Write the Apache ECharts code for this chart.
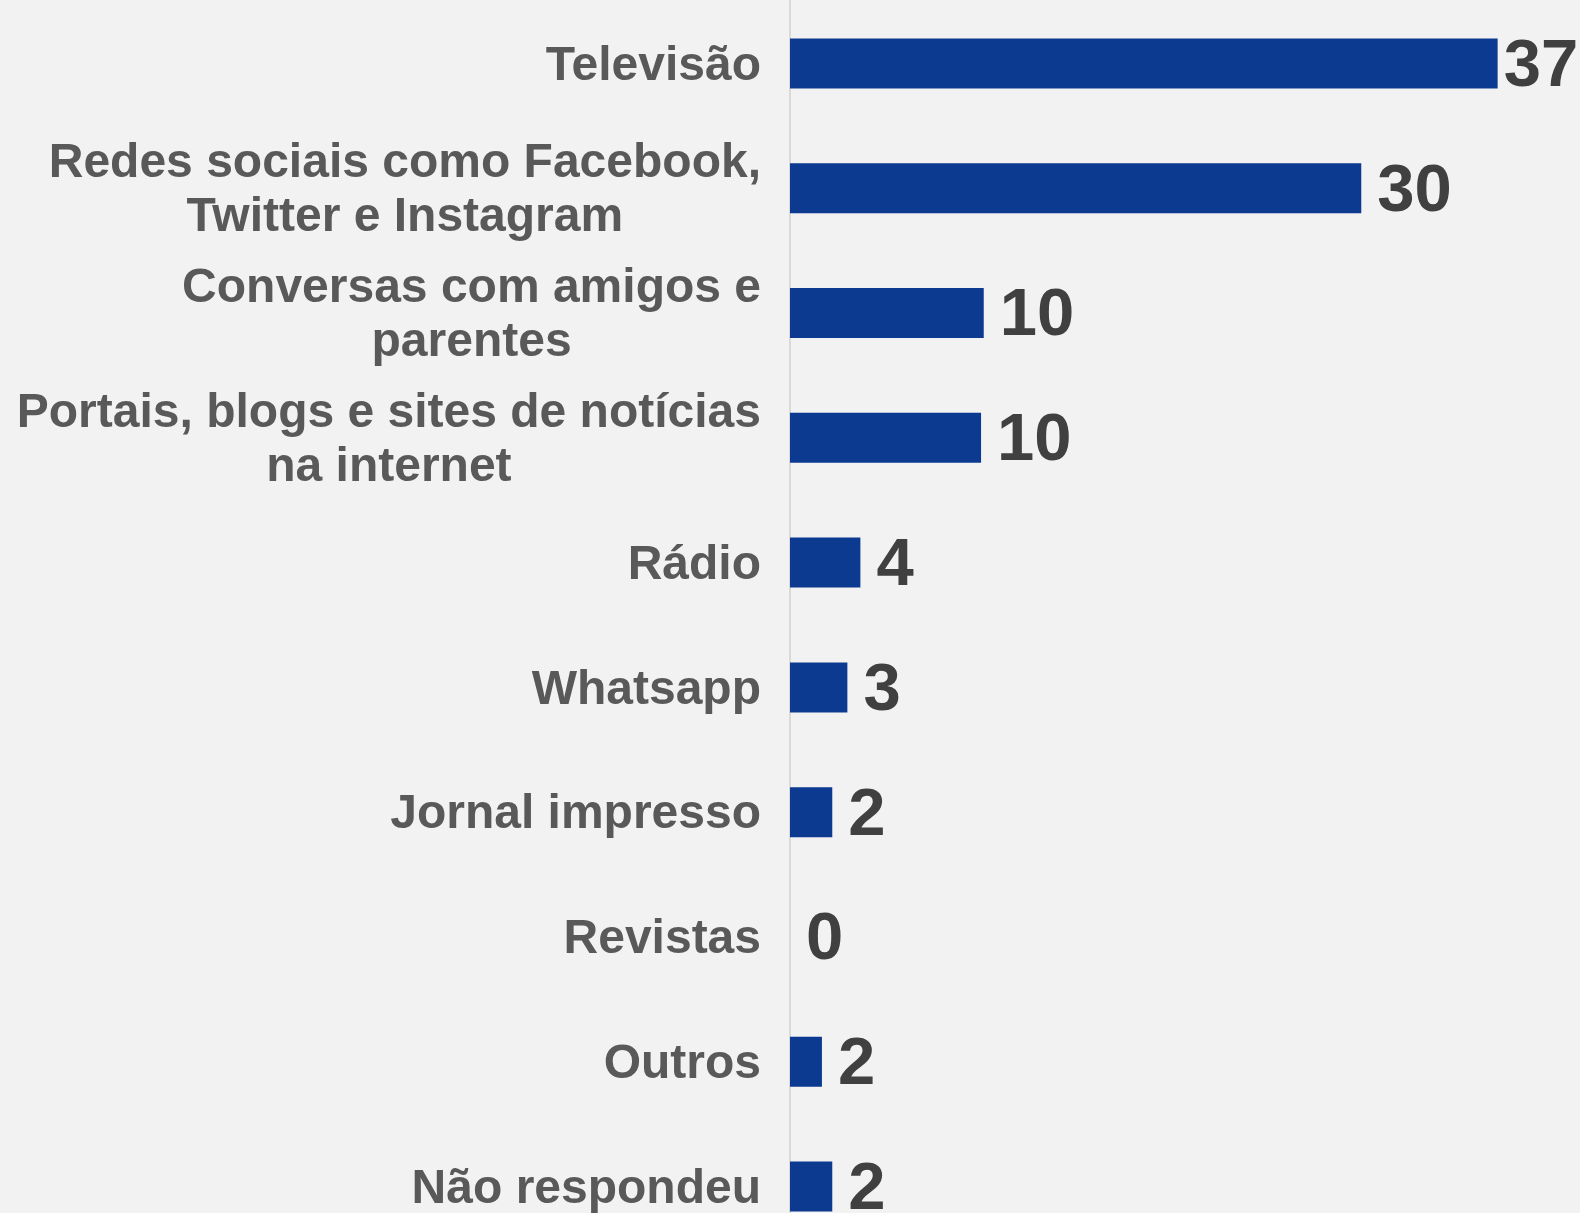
<!DOCTYPE html>
<html>
<head>
<meta charset="utf-8">
<script src="https://cdn.jsdelivr.net/npm/echarts@6/dist/echarts.min.js"></script>
<style>
  html, body { margin: 0; padding: 0; background: #f2f2f2; overflow: hidden; }
  #chart { width: 1580px; height: 1252px; }
</style>
</head>
<body>
<div id="chart"></div>
<script>
const categories = [
  'Televisão',
  'Redes sociais como Facebook,\nTwitter e Instagram',
  'Conversas com amigos e\nparentes',
  'Portais, blogs e sites de notícias\nna internet',
  'Rádio',
  'Whatsapp',
  'Jornal impresso',
  'Revistas',
  'Outros',
  'Não respondeu'
];
const values = [37, 29.87, 10.13, 9.99, 3.68, 3.0, 2.21, 0, 1.67, 2.21];
const valueLabels = ['37', '30', '10', '10', '4', '3', '2', '0', '2', '2'];

const chart = echarts.init(document.getElementById('chart'));
const FONT = '"Liberation Sans", Arial, Helvetica, sans-serif';

const seriesData = values.map((v, i) => {
  const item = { value: v };
  if (i === 0) item.label = { distance: 6 };
  return item;
});

chart.setOption({
  backgroundColor: '#f2f2f2',
  animation: false,
  grid: { left: 790, right: 25, top: 1, height: 1248 },
  xAxis: {
    type: 'value',
    min: 0,
    max: 40,
    show: false
  },
  yAxis: {
    type: 'category',
    inverse: true,
    data: categories,
    axisLine: { show: true, lineStyle: { color: '#d9d9d9', width: 2 } },
    axisTick: { show: false },
    axisLabel: {
      margin: 29,
      align: 'right',
      verticalAlign: 'middle',
      padding: [6, 0, 0, 0],
      formatter: (val) => val.split('\n').map(s => '{c|' + s + '}').join('\n'),
      rich: {
        c: {
          align: 'center',
          fontFamily: FONT,
          fontWeight: 'bold',
          fontSize: 48,
          lineHeight: 54,
          color: '#595959'
        }
      }
    }
  },
  series: [{
    type: 'bar',
    data: seriesData,
    barWidth: 50,
    itemStyle: { color: '#0c3a90' },
    label: {
      show: true,
      position: 'right',
      distance: 16,
      offset: [0, 4],
      fontFamily: FONT,
      fontWeight: 'bold',
      fontSize: 67,
      color: '#404040',
      formatter: (p) => valueLabels[p.dataIndex]
    }
  }]
});
</script>
</body>
</html>
